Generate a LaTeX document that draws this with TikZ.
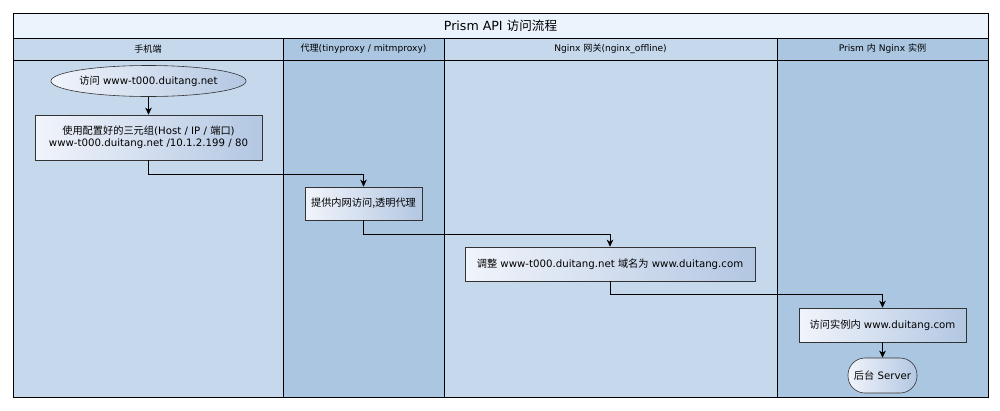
\documentclass[tikz,border=0pt]{standalone}
\usepackage{fontspec}
\setmainfont{DejaVu Sans}
\newfontfamily\cjk{Noto Sans CJK SC}
\usetikzlibrary{arrows.meta}
\usetikzlibrary{shapes.geometric}

\definecolor{laneA}{HTML}{C5D8EC}
\definecolor{laneB}{HTML}{AAC6E1}
\definecolor{titlebg}{HTML}{EBF3FC}
\definecolor{boxL}{HTML}{F1F4FB}
\definecolor{boxR}{HTML}{B3C7E2}

\begin{document}
\begin{tikzpicture}[x=1pt,y=-1pt,
	lane/.style={line width=0.8pt},
	head/.style={font=\fontsize{9.1}{10}\selectfont},
	stepbox/.style={
		draw=black!80,
		line width=0.6pt,
		left color=boxL,
		right color=boxR,
		align=center,
		inner sep=2pt,
		font=\fontsize{10.2}{12}\selectfont
	},
	flow/.style={-{Stealth[length=7pt,width=6.5pt,inset=2pt]}, line width=0.7pt}
]
	\useasboundingbox (0,0) rectangle (1000,410);

	% lanes
	\fill[titlebg] (13,13) rectangle (988,38);
	\fill[laneA] (13,38) rectangle (283,397);
	\fill[laneB] (283,38) rectangle (444,397);
	\fill[laneA] (444,38) rectangle (777,397);
	\fill[laneB] (777,38) rectangle (988,397);
	\draw[lane] (13,13) rectangle (988,397);
	\draw[lane] (13,38) -- (988,38);
	\draw[lane] (13,60) -- (988,60);
	\draw[lane] (283,38) -- (283,397);
	\draw[lane] (444,38) -- (444,397);
	\draw[lane] (777,38) -- (777,397);

	\node[font=\fontsize{12.6}{14}\selectfont] (title) at (500.5,26) {Prism API {\cjk 访问流程}};
	\node[head] (hdPhone) at (148,49) {{\cjk 手机端}};
	\node[head] (hdProxy) at (363.5,49) {{\cjk 代理}(tinyproxy / mitmproxy)};
	\node[head] (hdGate) at (610.5,49) {Nginx {\cjk 网关}(nginx\_offline)};
	\node[head] (hdPrism) at (882.5,49) {Prism {\cjk 内} Nginx {\cjk 实例}};

	% steps
	\node[stepbox, ellipse, minimum width=162, minimum height=31, inner sep=0pt] (visit) at (148.5,81) {{\cjk 访问} www-t000.duitang.net};
	\node[stepbox, minimum width=227, minimum height=45] (triple) at (148.5,137.5) {{\cjk 使用配置好的三元组}(Host / IP / {\cjk 端口})\\www-t000.duitang.net /10.1.2.199 / 80};
	\node[stepbox, minimum width=117, minimum height=33] (proxy) at (363.5,203.5) {{\cjk 提供内网访问,透明代理}};
	\node[stepbox, minimum width=290, minimum height=34] (rename) at (610,264) {{\cjk 调整} www-t000.duitang.net {\cjk 域名为} www.duitang.com};
	\node[stepbox, minimum width=167, minimum height=34] (inst) at (882.5,325) {{\cjk 访问实例内} www.duitang.com};
	\node[stepbox, minimum width=69, minimum height=35, rounded corners=17pt] (server) at (882.5,375.5) {{\cjk 后台} Server};

	% flows
	\draw[flow] (visit) -- (triple);
	\draw[flow] (triple.south) -- ++(0,14) -| (proxy.north);
	\draw[flow] (proxy.south) -- ++(0,14) -| (rename.north);
	\draw[flow] (rename.south) -- ++(0,13) -| (inst.north);
	\draw[flow] (inst) -- (server);
\end{tikzpicture}
\end{document}
